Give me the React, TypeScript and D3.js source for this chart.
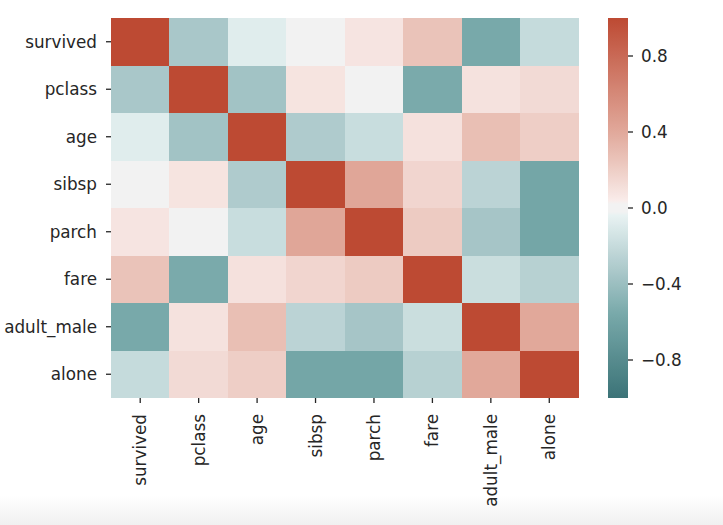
import React from "react";
import * as d3 from "d3";

const labels = ["survived", "pclass", "age", "sibsp", "parch", "fare", "adult_male", "alone"];
// correlation matrix rows (symmetric)
const survived = [1.0, -0.338, -0.077, -0.035, 0.082, 0.257, -0.557, -0.203];
const pclass = [-0.338, 1.0, -0.369, 0.083, 0.018, -0.549, 0.094, 0.135];
const age = [-0.077, -0.369, 1.0, -0.308, -0.189, 0.096, 0.28, 0.198];
const sibsp = [-0.035, 0.083, -0.308, 1.0, 0.415, 0.16, -0.254, -0.584];
const parch = [0.082, 0.018, -0.189, 0.415, 1.0, 0.216, -0.35, -0.583];
const fare = [0.257, -0.549, 0.096, 0.16, 0.216, 1.0, -0.182, -0.272];
const adultMale = [-0.557, 0.094, 0.28, -0.254, -0.35, -0.182, 1.0, 0.404];
const alone = [-0.203, 0.135, 0.198, -0.584, -0.583, -0.272, 0.404, 1.0];
const rows = [survived, pclass, age, sibsp, parch, fare, adultMale, alone];
const cbarTicks = [0.8, 0.4, 0.0, -0.4, -0.8];

const W = 723;
const H = 525;
const left = 111;
const right = 578.5;
const top = 18;
const bottom = 398;
const cbX = 608;
const cbW = 20;
const font = "'DejaVu Sans', sans-serif";
const fs = 16.8;
const textColor = "#262626";

const color = d3
  .scaleLinear<string>()
  .domain([-1, -0.557, -0.338, -0.2, -0.04, -0.039, 0.039, 0.04, 0.257, 0.415, 1])
  .range([
    "#3b7377",
    "#78a9aa",
    "#a9c7c9",
    "#c6dbdc",
    "#e8f2f2",
    "#f2f2f2",
    "#f2f2f2",
    "#f9ecea",
    "#eac3b9",
    "#e0a698",
    "#bd4a33",
  ])
  .interpolate(d3.interpolateRgb)
  .clamp(true);

export default function App() {
  const x = d3.scaleBand<string>().domain(labels).range([left, right]);
  const y = d3.scaleBand<string>().domain(labels).range([top, bottom]);
  const cy = d3.scaleLinear().domain([-1, 1]).range([bottom, top]);
  const stops = d3.range(0, 101).map((i) => {
    const v = 1 - (i / 100) * 2;
    return { off: i, c: color(v) };
  });
  const mminus = (v: number) => {
    const s = v.toFixed(1);
    return s.startsWith("-") ? "\u2212" + s.slice(1) : s;
  };
  return (
    <svg
      width={W}
      height={H}
      style={{ position: "absolute", left: 0, top: 0, background: "#fff" }}
      fontFamily={font}
    >
      <defs>
        <linearGradient id="cb" x1="0" y1="0" x2="0" y2="1">
          {stops.map((s) => (
            <stop key={s.off} offset={`${s.off}%`} stopColor={s.c} />
          ))}
        </linearGradient>
        <linearGradient id="shade" x1="0" y1="0" x2="0" y2="1">
          <stop offset="0%" stopColor="#ffffff" />
          <stop offset="100%" stopColor="#f0f0f0" />
        </linearGradient>
      </defs>
      <rect x={0} y={0} width={W} height={H} fill="#fff" />
      <rect x={0} y={495} width={W} height={30} fill="url(#shade)" />
      {rows.map((r, i) =>
        r.map((v, j) => (
          <rect
            key={`${i}-${j}`}
            x={x(labels[j])}
            y={y(labels[i])}
            width={x.bandwidth()}
            height={y.bandwidth()}
            fill={color(v)}
            shapeRendering="crispEdges"
          />
        ))
      )}
      {labels.map((l) => {
        const yc = (y(l) as number) + y.bandwidth() / 2;
        return (
          <g key={"y" + l}>
            <line x1={left - 5} x2={left} y1={yc} y2={yc} stroke={textColor} strokeWidth={1.3} />
            <text x={left - 14} y={yc} textAnchor="end" dominantBaseline="central" fontSize={fs} fill={textColor}>
              {l}
            </text>
          </g>
        );
      })}
      {labels.map((l) => {
        const xc = (x(l) as number) + x.bandwidth() / 2;
        return (
          <g key={"x" + l}>
            <line x1={xc} x2={xc} y1={bottom} y2={bottom + 5} stroke={textColor} strokeWidth={1.3} />
            <text
              transform={`translate(${xc},${bottom + 16}) rotate(-90)`}
              textAnchor="end"
              dominantBaseline="central"
              fontSize={fs}
              fill={textColor}
            >
              {l}
            </text>
          </g>
        );
      })}
      <rect x={cbX} y={top} width={cbW} height={bottom - top} fill="url(#cb)" />
      {cbarTicks.map((t) => (
        <g key={"c" + t}>
          <line x1={cbX + cbW} x2={cbX + cbW + 5} y1={cy(t)} y2={cy(t)} stroke={textColor} strokeWidth={1.3} />
          <text x={cbX + cbW + 13} y={cy(t)} dominantBaseline="central" fontSize={fs} fill={textColor}>
            {mminus(t)}
          </text>
        </g>
      ))}
    </svg>
  );
}
